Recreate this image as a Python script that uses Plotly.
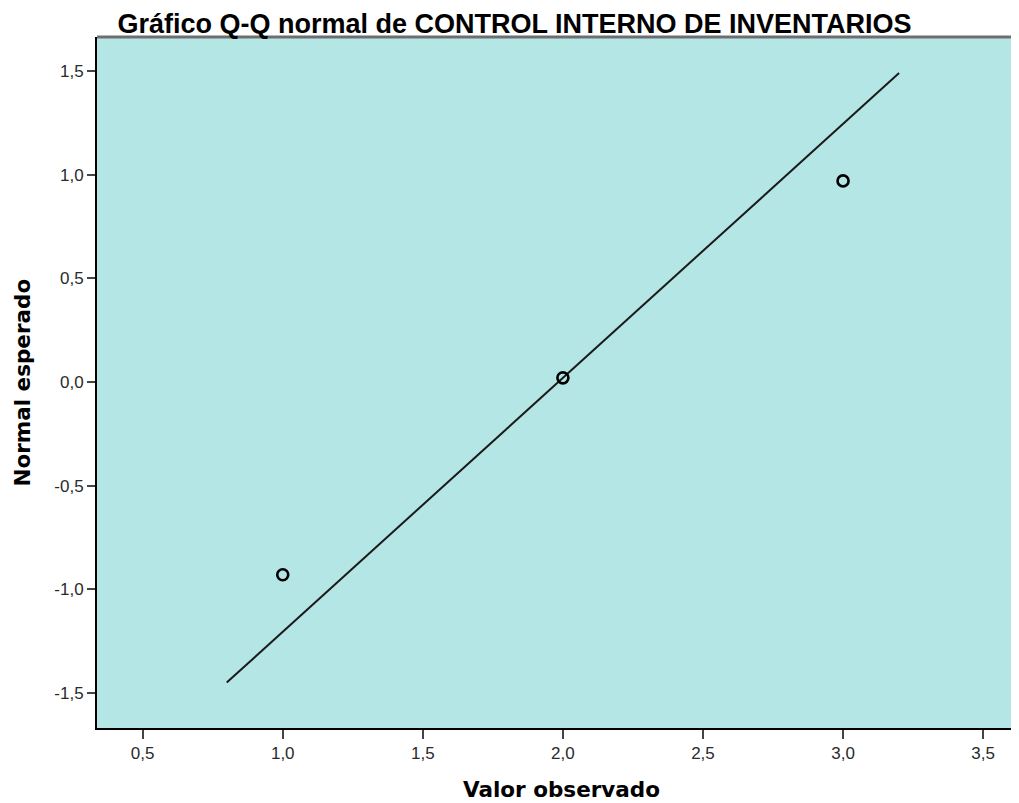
import plotly.graph_objects as go

# observed values vs expected normal quantiles
valor_observado = [1.0, 2.0, 3.0]
normal_esperado = [-0.93, 0.02, 0.97]

# reference line end points
linea_x = [0.8, 3.2]
linea_y = [-1.45, 1.49]

x_ticks = [0.5, 1.0, 1.5, 2.0, 2.5, 3.0, 3.5]
y_ticks = [-1.5, -1.0, -0.5, 0.0, 0.5, 1.0, 1.5]

def etiqueta(v):
  # SPSS style: decimal comma and plain hyphen for negatives
  return f'{v:.1f}'.replace('.', ',')

fig = go.Figure()
fig.add_trace(go.Scatter(x=linea_x, y=linea_y, mode='lines',
                         line={'color': '#1a1a1a', 'width': 2},
                         showlegend=False, hoverinfo='skip'))
fig.add_trace(go.Scatter(x=valor_observado, y=normal_esperado, mode='markers',
                         marker={'symbol': 'circle-open', 'size': 11,
                                 'color': '#000000', 'line': {'width': 2.6}},
                         showlegend=False))

tick_font = {'family': 'Liberation Sans, Arial, sans-serif', 'size': 17, 'color': '#2a2a2a'}
title_font = {'family': 'DejaVu Sans, Verdana, sans-serif', 'size': 21.5, 'color': '#000000'}

fig.update_layout(
  width=1011, height=795,
  margin={'l': 89, 'r': 0, 't': 29, 'b': 75},
  paper_bgcolor='white',
  plot_bgcolor='#b4e6e6',
  title={'text': '<b>Gráfico Q-Q normal de CONTROL INTERNO DE INVENTARIOS</b>',
         'x': 0.501, 'xanchor': 'center', 'y': 0.981, 'yanchor': 'middle',
         'font': {'family': 'Liberation Sans, Arial, sans-serif', 'size': 27, 'color': '#000000'}},
  xaxis={'range': [0.337, 3.628], 'tickvals': x_ticks,
         'ticktext': [etiqueta(v) for v in x_ticks],
         'showgrid': False, 'zeroline': False,
         'showline': True, 'linecolor': '#000000', 'linewidth': 2,
         'ticks': 'outside', 'ticklen': 9, 'tickwidth': 2, 'tickcolor': '#444444',
         'tickfont': tick_font},
  yaxis={'range': [-1.669, 1.664], 'tickvals': y_ticks,
         'ticktext': [etiqueta(v) for v in y_ticks],
         'showgrid': False, 'zeroline': False,
         'showline': True, 'linecolor': '#000000', 'linewidth': 2,
         'ticks': 'outside', 'ticklen': 8, 'tickwidth': 2, 'tickcolor': '#444444',
         'tickfont': tick_font},
)

fig.add_annotation(text='<b>Valor observado</b>', xref='paper', yref='paper',
                   x=0.504, y=-0.0897, xanchor='center', yanchor='middle',
                   showarrow=False, font=title_font)
fig.add_annotation(text='<b>Normal esperado</b>', xref='paper', yref='paper',
                   x=-0.0813, y=0.5, xanchor='center', yanchor='middle',
                   textangle=-90, showarrow=False, font=title_font)

# grey frame line along the top of the plot area
fig.add_shape(type='line', xref='paper', yref='paper', x0=0, x1=1, y0=1, y1=1,
              line={'color': '#6e6e6e', 'width': 3})

fig.write_html("out.html")
